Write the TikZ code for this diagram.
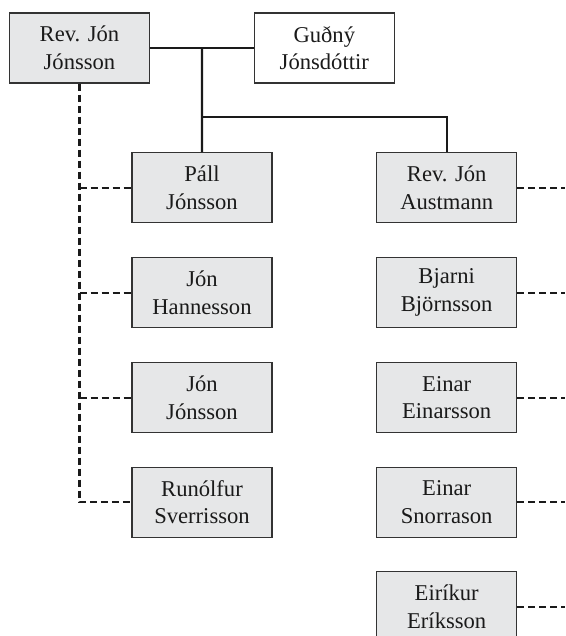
\documentclass[tikz,border=0pt]{standalone}
\usepackage{fontspec}
\setmainfont{Liberation Serif}
\usetikzlibrary{calc}
\definecolor{boxfill}{HTML}{E6E7E8}
\definecolor{boxline}{HTML}{333333}
\definecolor{inkline}{HTML}{1A1A1A}
\tikzset{
  person/.style={draw=boxline, line width=1.2pt, fill=boxfill, minimum width=140pt, minimum height=70pt,
    inner sep=0pt, align=center, text=inkline, font=\fontsize{22.6pt}{27.6pt}\selectfont},
  spouse/.style={person, fill=white},
  solidlink/.style={draw=inkline, line width=2.2pt},
  dashlink/.style={draw=inkline, line width=2.2pt, dash pattern=on 7pt off 4pt}
}
\begin{document}
\begin{tikzpicture}[x=1pt, y=-1pt]
\useasboundingbox (0,0) rectangle (565,636);
\clip (0,0) rectangle (565,636);
\coordinate (edge) at (565,0);
% top couple
\node[person] (rev) at (79.5,48) {Rev. Jón\\Jónsson};
\node[spouse] (gud) at (324.3,48) {Guðný\\Jónsdóttir};
% left column
\node[person] (pall) at (202,187.7) {Páll\\Jónsson};
\node[person] (hann) at (202,292.7) {Jón\\Hannesson};
\node[person] (jjon) at (202,397.7) {Jón\\Jónsson};
\node[person] (runo) at (202,502.2) {Runólfur\\Sverrisson};
% right column
\node[person] (aust) at (446.7,187.7) {Rev. Jón\\Austmann};
\node[person] (bjar) at (446.7,292.7) {Bjarni\\Björnsson};
\node[person] (eein) at (446.7,397.7) {Einar\\Einarsson};
\node[person] (esno) at (446.7,502.2) {Einar\\Snorrason};
\node[person] (eiri) at (446.7,606.8) {Eiríkur\\Eríksson};
% marriage and children
\coordinate (m) at ($(rev.east)!0.5!(gud.west)$);
\coordinate (j) at ($(m)+(0,69.3)$);
\draw[solidlink] (rev.east) -- (gud.west);
\draw[solidlink] (m) -- (pall.north);
\draw[solidlink] (j) -| (aust.north);
% dashed links left
\draw[dashlink] (rev.south) |- (runo.west);
\draw[dashlink] (rev.south |- pall.west) -- (pall.west);
\draw[dashlink] (rev.south |- hann.west) -- (hann.west);
\draw[dashlink] (rev.south |- jjon.west) -- (jjon.west);
% dashed links right
\foreach \n in {aust,bjar,eein,esno,eiri}{
  \draw[dashlink] (\n.east) -- (\n.east -| edge);
}
\end{tikzpicture}
\end{document}
